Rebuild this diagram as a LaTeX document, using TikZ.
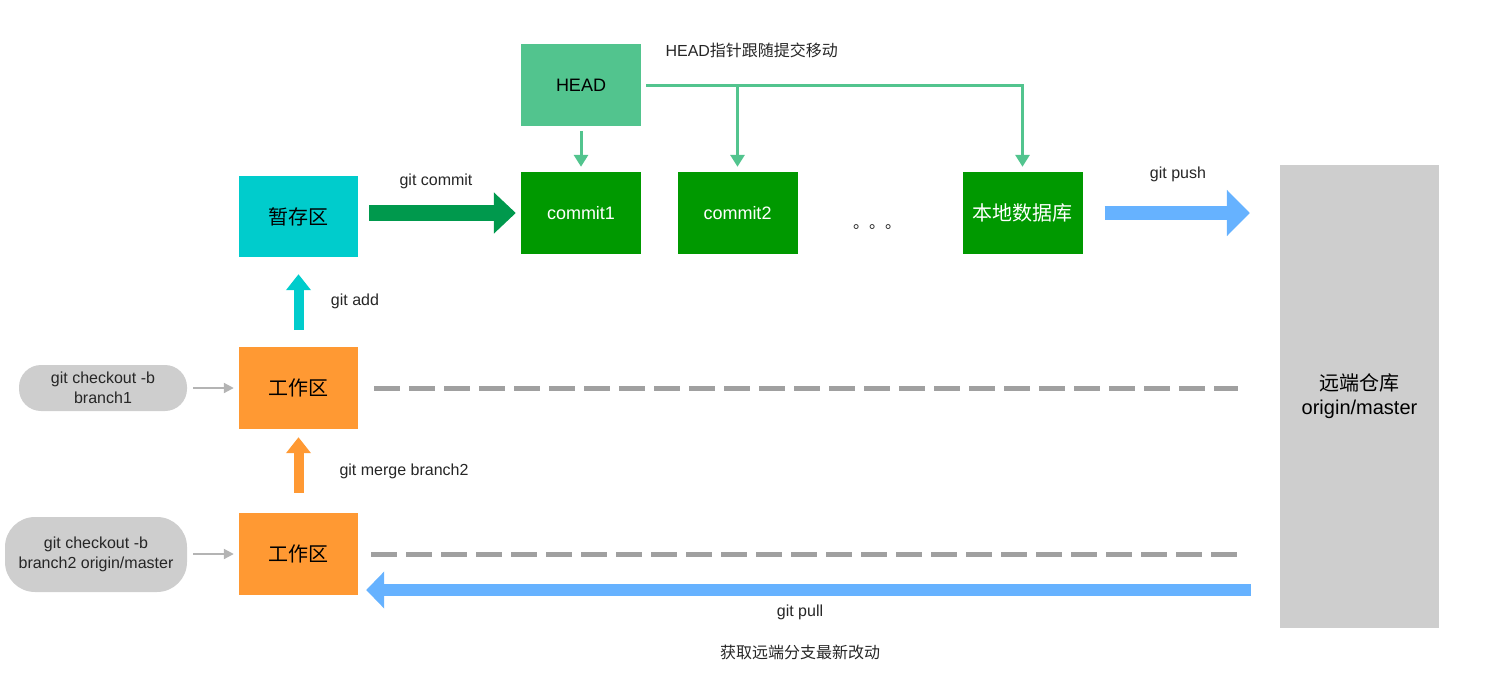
\documentclass[tikz,border=0pt]{standalone}
\usepackage{fontspec}
\setmainfont{Liberation Sans}
\newfontfamily\cjk{Noto Sans CJK SC}
\usepackage{xcolor}
\usetikzlibrary{arrows.meta, positioning}

\definecolor{headgreen}{RGB}{82,196,142}
\definecolor{stagecyan}{RGB}{0,204,204}
\definecolor{commitgreen}{RGB}{0,153,0}
\definecolor{arrowgreen}{RGB}{0,153,77}
\definecolor{workorange}{RGB}{255,153,51}
\definecolor{remotegray}{RGB}{206,206,206}
\definecolor{pushblue}{RGB}{102,178,255}
\definecolor{dashgray}{RGB}{160,160,160}
\definecolor{smallgray}{RGB}{180,180,180}

\tikzset{
    box/.style={minimum width=120pt, minimum height=82pt, inner sep=0pt,
        font=\fontsize{18}{22}\selectfont},
    cjkbox/.style={box, font=\fontsize{20}{24}\selectfont\cjk},
    lbl/.style={font=\fontsize{16}{19}\selectfont, text=black!85},
    pill/.style={fill=remotegray, align=center, inner sep=0pt,
        font=\fontsize{16}{20}\selectfont, text=black!85},
    headline/.style={headgreen, line width=3pt},
    fatarrow/.style={line width=#1}
}

\begin{document}
\begin{tikzpicture}[>=latex, x=1pt, y=-1pt]
    \useasboundingbox (0,0) rectangle (1488,685);

    % Các khối chính
    \node[box, fill=headgreen] (head) at (581,85) {HEAD};
    \node[cjkbox, fill=stagecyan, minimum width=119pt, minimum height=81pt] (stage) at (298.5,216.5) {暂存区};
    \node[box, fill=commitgreen, text=white] (commit1) at (581,213) {commit1};
    \node[box, fill=commitgreen, text=white] (commit2) at (737.5,213) {commit2};
    \node[cjkbox, fill=commitgreen, text=white] (local) at (1022.5,213) {本地数据库};
    \node[lbl] (dots) at (877,227) {\cjk 。。。};
    \node[box, fill=remotegray, minimum width=159pt, minimum height=463pt, align=center,
        font=\fontsize{20}{24}\selectfont] (remote) at (1359.5,396.5)
        {{\cjk 远端仓库}\\origin/master};
    \node[cjkbox, fill=workorange, minimum width=119pt] (work1) at (298.5,388) {工作区};
    \node[cjkbox, fill=workorange, minimum width=119pt] (work2) at (298.5,554) {工作区};

    % Lệnh checkout
    \node[pill, minimum width=168pt, minimum height=46pt, rounded corners=22pt] (pill1) at (103,388)
        {git checkout -b\\branch1};
    \node[pill, minimum width=182pt, minimum height=75pt, rounded corners=30pt] (pill2) at (96,554.5)
        {git checkout -b\\branch2 origin/master};

    % Con trỏ HEAD
    \draw[headline, -{Triangle[length=12pt, width=14pt]}] ([yshift=-5pt]head.south) -- ([yshift=5pt]commit1.north);
    \draw[headline, -{Triangle[length=12pt, width=14pt]}] ([xshift=5pt]head.east) -| ([yshift=5pt]local.north);
    \draw[headline, -{Triangle[length=12pt, width=14pt]}] (commit2.north |- head.east) -- ([yshift=5pt]commit2.north);
    \node[lbl, anchor=west] (headtext) at (662,50) {HEAD\cjk 指针跟随提交移动};

    % git add, commit, push
    \draw[fatarrow=10pt, stagecyan, -{Triangle[length=16pt, width=24pt]}] ([yshift=17pt]work1.north) -- ([yshift=-17pt]stage.south);
    \node[lbl] (addtext) at (355,301) {git add};
    \draw[fatarrow=16pt, arrowgreen, -{Triangle[length=22pt, width=40pt]}] ([xshift=11pt]stage.east |- commit1) -- ([xshift=-5pt]commit1.west);
    \node[lbl] (committext) at (436,181) {git commit};
    \draw[fatarrow=14pt, pushblue, -{Triangle[length=23pt, width=45pt]}] ([xshift=22pt]local.east) -- ([xshift=-30pt]remote.west |- local.east);
    \node[lbl] (pushtext) at (1178,174) {git push};

    % git merge
    \draw[fatarrow=10pt, workorange, -{Triangle[length=16pt, width=24pt]}] ([yshift=20pt]work2.north) -- ([yshift=-8pt]work1.south);
    \node[lbl] (mergetext) at (404,471) {git merge branch2};

    % checkout -> 工作区
    \draw[smallgray, line width=2pt, -{Triangle[length=10pt, width=10pt]}] ([xshift=6pt]pill1.east) -- ([xshift=-5pt]work1.west);
    \draw[smallgray, line width=2pt, -{Triangle[length=10pt, width=10pt]}] ([xshift=6pt]pill2.east |- work2.west) -- ([xshift=-5pt]work2.west);

    % Nét đứt tới kho từ xa
    \draw[dashgray, line width=5pt, dash pattern=on 26pt off 9pt] ([xshift=16pt]work1.east) -- ([xshift=-42pt]remote.west |- work1.east);
    \draw[dashgray, line width=5pt, dash pattern=on 26pt off 9pt] ([xshift=13pt]work2.east) -- ([xshift=-42pt]remote.west |- work2.east);

    % git pull
    \coordinate (pullend) at ([xshift=8pt, yshift=-36pt]work2.east);
    \coordinate (pullstart) at (remote.west |- pullend);
    \draw[fatarrow=12pt, pushblue, -{Triangle[length=18pt, width=36pt]}] ([xshift=-29pt]pullstart) -- (pullend);
    \node[lbl] (pulltext) at (800,612) {git pull};
    \node[lbl] (pullnote) at (800,652) {\cjk 获取远端分支最新改动};
\end{tikzpicture}
\end{document}
